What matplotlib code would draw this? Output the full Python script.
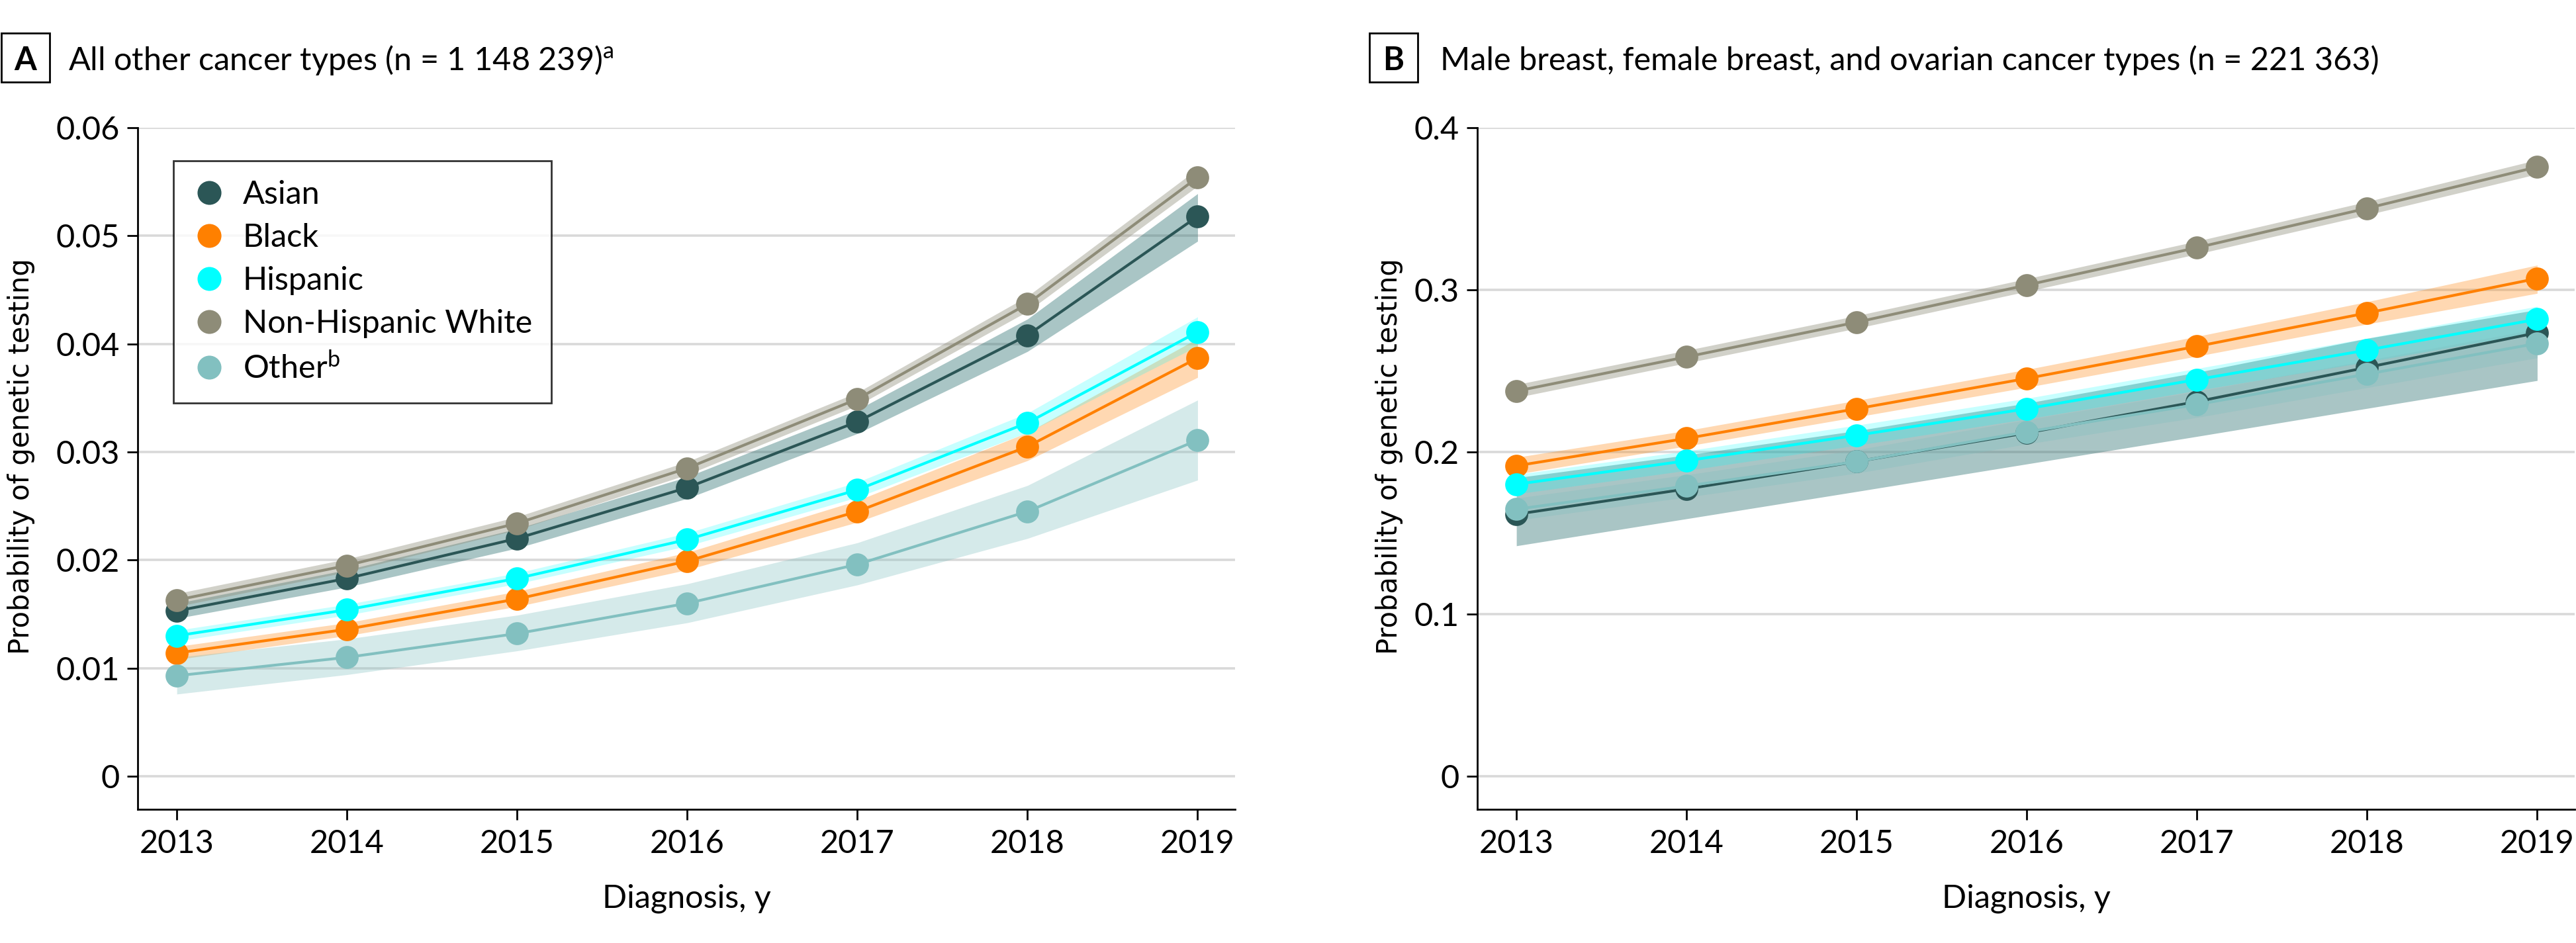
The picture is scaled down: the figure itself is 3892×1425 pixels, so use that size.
import matplotlib
matplotlib.use('Agg')
import matplotlib.pyplot as plt
from matplotlib.lines import Line2D
from matplotlib.patches import Rectangle

plt.rcParams['font.family'] = ['Lato', 'DejaVu Sans']
plt.rcParams['mathtext.fontset'] = 'custom'
plt.rcParams['mathtext.rm'] = 'Lato'
plt.rcParams['mathtext.default'] = 'regular'

# data
years = [2013, 2014, 2015, 2016, 2017, 2018, 2019]
groups = ['Asian', 'Black', 'Hispanic', 'Non-Hispanic White', 'Other']
legend_labels = ['Asian', 'Black', 'Hispanic', 'Non-Hispanic White', 'Other$^{b}$']
colors = ['#2b5656', '#ff8000', '#00ffff', '#8e8c78', '#82c0c0']
band_colors = ['#2a6e6e', '#ff8000', '#00ffff', '#8e8c78', '#82c0c0']
band_alpha = [0.4, 0.3, 0.22, 0.4, 0.33]

# panel A: all other cancer types
a_asian = [0.0153, 0.0183, 0.0220, 0.0267, 0.0328, 0.0408, 0.0518]
a_asian_lo = [0.0146, 0.0175, 0.0211, 0.0257, 0.0317, 0.0393, 0.0495]
a_asian_hi = [0.0160, 0.0191, 0.0229, 0.0277, 0.0339, 0.0423, 0.0539]
a_black = [0.0114, 0.0136, 0.0164, 0.0199, 0.0245, 0.0305, 0.0387]
a_black_lo = [0.0108, 0.0130, 0.0157, 0.0191, 0.0235, 0.0292, 0.0369]
a_black_hi = [0.0120, 0.0142, 0.0171, 0.0207, 0.0255, 0.0318, 0.0405]
a_hisp = [0.0130, 0.0154, 0.0183, 0.0219, 0.0265, 0.0327, 0.0411]
a_hisp_lo = [0.0125, 0.0149, 0.0178, 0.0213, 0.0258, 0.0318, 0.0398]
a_hisp_hi = [0.0135, 0.0159, 0.0188, 0.0225, 0.0272, 0.0336, 0.0425]
a_nhw = [0.0163, 0.0195, 0.0234, 0.0285, 0.0349, 0.0437, 0.0554]
a_nhw_lo = [0.0157, 0.0189, 0.0228, 0.0279, 0.0343, 0.0430, 0.0546]
a_nhw_hi = [0.0169, 0.0201, 0.0240, 0.0291, 0.0355, 0.0444, 0.0562]
a_other = [0.0093, 0.0110, 0.0132, 0.0160, 0.0196, 0.0245, 0.0311]
a_other_lo = [0.0076, 0.0094, 0.0116, 0.0142, 0.0177, 0.0220, 0.0274]
a_other_hi = [0.0110, 0.0127, 0.0149, 0.0178, 0.0216, 0.0269, 0.0348]

# panel B: male breast, female breast, ovarian
b_asian = [0.1615, 0.1771, 0.1940, 0.2117, 0.2310, 0.2521, 0.2735]
b_asian_lo = [0.1420, 0.1587, 0.1755, 0.1925, 0.2095, 0.2268, 0.2440]
b_asian_hi = [0.1840, 0.1980, 0.2130, 0.2300, 0.2490, 0.2700, 0.2877]
b_black = [0.1914, 0.2083, 0.2266, 0.2453, 0.2651, 0.2857, 0.3070]
b_black_lo = [0.1862, 0.2035, 0.2215, 0.2398, 0.2590, 0.2788, 0.2978]
b_black_hi = [0.1966, 0.2131, 0.2317, 0.2508, 0.2712, 0.2926, 0.3152]
b_hisp = [0.1800, 0.1945, 0.2102, 0.2266, 0.2446, 0.2628, 0.2818]
b_hisp_lo = [0.1740, 0.1885, 0.2040, 0.2202, 0.2378, 0.2555, 0.2738]
b_hisp_hi = [0.1860, 0.2005, 0.2164, 0.2330, 0.2514, 0.2701, 0.2898]
b_nhw = [0.2375, 0.2586, 0.2800, 0.3029, 0.3260, 0.3503, 0.3758]
b_nhw_lo = [0.2335, 0.2548, 0.2762, 0.2990, 0.3220, 0.3462, 0.3714]
b_nhw_hi = [0.2415, 0.2626, 0.2840, 0.3068, 0.3300, 0.3544, 0.3802]
b_other = [0.1646, 0.1789, 0.1940, 0.2123, 0.2292, 0.2480, 0.2669]
b_other_lo = [0.1578, 0.1720, 0.1868, 0.2048, 0.2212, 0.2396, 0.2580]
b_other_hi = [0.1714, 0.1858, 0.2012, 0.2198, 0.2372, 0.2564, 0.2758]

a_yticks = [0, 0.01, 0.02, 0.03, 0.04, 0.05, 0.06]
a_yticklabels = ['0', '0.01', '0.02', '0.03', '0.04', '0.05', '0.06']
b_yticks = [0, 0.1, 0.2, 0.3, 0.4]
b_yticklabels = ['0', '0.1', '0.2', '0.3', '0.4']

FS = 17.5
W, H = 3892, 1425

fig = plt.figure(figsize=(W / 200, H / 200), dpi=200)
axA = fig.add_axes([208 / W, 1 - 1223 / H, 1658 / W, 1030 / H])
axB = fig.add_axes([2232 / W, 1 - 1223 / H, 1658 / W, 1030 / H])


def draw_panel(ax, means, los, his, yticks, yticklabels, ylim):
    for lo, hi, c, a in zip(los, his, band_colors, band_alpha):
        ax.fill_between(years, lo, hi, color=c, alpha=a, lw=0, zorder=2)
    for m, c in zip(means, colors):
        ax.plot(years, m, color=c, lw=1.5, marker='o', ms=12.5, mec='none', zorder=3)
    ax.set_xlim(2012.77, 2019.22)
    ax.set_ylim(*ylim)
    ax.set_xticks(years)
    ax.set_xticklabels([str(y) for y in years])
    ax.set_yticks(yticks)
    ax.set_yticklabels(yticklabels)
    ax.yaxis.grid(True, color='#d9d9d9', lw=1.3, zorder=0)
    ax.set_axisbelow(True)
    for s in ['top', 'right']:
        ax.spines[s].set_visible(False)
    ax.spines['left'].set_bounds(ylim[0], yticks[-1])
    for s in ['left', 'bottom']:
        ax.spines[s].set_linewidth(1.0)
    ax.tick_params(axis='both', labelsize=FS, width=1.0, length=5.8, direction='out')
    ax.tick_params(axis='y', pad=4)
    ax.tick_params(axis='x', pad=5)
    ax.set_xlabel('Diagnosis, y', fontsize=FS, labelpad=14)


draw_panel(axA,
           [a_asian, a_black, a_hisp, a_nhw, a_other],
           [a_asian_lo, a_black_lo, a_hisp_lo, a_nhw_lo, a_other_lo],
           [a_asian_hi, a_black_hi, a_hisp_hi, a_nhw_hi, a_other_hi],
           a_yticks, a_yticklabels, (-0.00306, 0.06))
draw_panel(axB,
           [b_asian, b_black, b_hisp, b_nhw, b_other],
           [b_asian_lo, b_black_lo, b_hisp_lo, b_nhw_lo, b_other_lo],
           [b_asian_hi, b_black_hi, b_hisp_hi, b_nhw_hi, b_other_hi],
           b_yticks, b_yticklabels, (-0.0206, 0.4))

# y labels (wide font as in the original)
for xc in (32, 2099):
    fig.text(xc / W, 1 - 690 / H, 'Probability of genetic testing', rotation=90,
             ha='center', va='center', fontsize=15, family='DejaVu Sans')

# legend
handles = [Line2D([], [], ls='none', marker='o', ms=13, color=c, mec='none') for c in colors]
leg = axA.legend(handles, legend_labels, loc='upper left', bbox_to_anchor=(0.0326, 0.9515),
                 fontsize=FS, frameon=True, fancybox=False, edgecolor='black',
                 handlelength=1.0, handletextpad=0.55, labelspacing=0.43,
                 borderpad=0.6, borderaxespad=0)
leg.get_frame().set_linewidth(1.0)

# panel titles with boxed letters
for bx, tx, letter, title in [(2, 103, 'A', 'All other cancer types (n = 1 148 239)$^{a}$'),
                              (2069, 2176, 'B', 'Male breast, female breast, and ovarian cancer types (n = 221 363)')]:
    fig.add_artist(Rectangle((bx / W, 1 - 124 / H), 73 / W, 74 / H, transform=fig.transFigure,
                             fill=False, ec='black', lw=1.0))
    fig.text((bx + 36.5) / W, 1 - 106 / H, letter, ha='center', va='baseline',
             fontsize=FS, fontweight='bold')
    fig.text(tx / W, 1 - 106 / H, title, ha='left', va='baseline', fontsize=FS)

fig.savefig('out.png', dpi=200)
